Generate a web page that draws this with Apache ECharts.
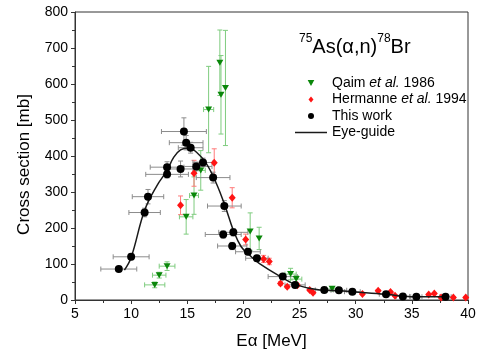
<!DOCTYPE html>
<html>
<head>
<meta charset="utf-8">
<script src="https://cdn.jsdelivr.net/npm/echarts@6/dist/echarts.min.js"></script>
<style>
  html, body { margin: 0; padding: 0; background: #fff; }
  #chart { width: 479px; height: 356px; }
</style>
</head>
<body>
<div id="chart"></div>
<script>
// This work (black circles)
const workE  = [8.9, 10.0, 11.2, 11.5, 13.2, 13.2, 14.4, 14.7, 14.9, 15.3, 15.8, 16.4, 17.3, 18.3, 18.2, 19.1, 19.0, 20.4, 21.2, 23.5, 24.6, 27.2, 28.5, 29.7, 32.7, 34.2, 35.4, 38.0];
const workS  = [86, 120, 243, 287, 349, 369, 364, 468, 437, 423, 371, 382, 340, 261, 182, 188, 150, 134, 116, 65, 42, 28, 27, 23, 16, 10, 9, 9];
const workDE = [1.6, 1.6, 1.4, 1.4, 1.9, 1.5, 1.1, 2.0, 1.5, 1.1, 1.4, 0.9, 1.5, 1.5, 1.6, 1.3, 1.3, 1.1, 1.0, 1.3, 0.9, 0.8, 0.7, 0.7, 0.6, 0.6, 0.5, 0.5];
const workDS = [6, 8, 12, 20, 10, 15, 22, 38, 20, 15, 12, 12, 15, 15, 10, 10, 10, 8, 8, 6, 5, 4, 4, 3, 3, 2, 2, 2];

// Hermanne et al. 1994 (red diamonds)
const hermE  = [14.4, 15.6, 17.4, 19.0, 20.2, 21.8, 22.3, 23.3, 23.9, 24.8, 25.9, 26.2, 30.6, 32.0, 33.1, 33.5, 36.5, 37.0, 37.6, 38.7, 39.8];
const hermS  = [263, 352, 381, 284, 168, 114, 107, 46, 37, 41, 28, 20, 17, 26, 22, 12, 15, 18, 7, 7, 7];
const hermDE = [0, 0, 0, 0, 0, 0, 0, 0, 0, 0, 0, 0, 0, 0, 0, 0, 0, 0, 0, 0, 0];
const hermDS = [26, 36, 39, 28, 15, 10, 9, 5, 4, 4, 3, 3, 3, 3, 3, 2, 2, 2, 2, 2, 2];

// Qaim et al. 1986 (green triangles)
const qaimE  = [12.1, 12.5, 13.2, 14.9, 15.6, 16.2, 16.9, 17.9, 18.0, 18.4, 20.6, 21.4, 24.2, 24.7, 27.9];
const qaimS  = [42, 69, 94, 231, 290, 360, 529, 659, 570, 589, 190, 171, 72, 58, 31];
const qaimDE = [0.9, 0.6, 0.7, 0.6, 0.4, 0.4, 0.45, 0, 0, 0, 0, 0, 0.5, 0.5, 0.5];
const qaimDS = [8, 8, 12, 48, 52, 55, 120, 91, 109, 160, 52, 31, 16, 10, 6];

// eye-guide curve
const guideE = [9.4, 10.0, 11.2, 12.3, 13.2, 13.8, 14.4, 15.1, 15.8, 16.7, 17.6, 18.4, 19.1, 19.8, 20.7, 21.4, 23.3, 24.7, 26.8, 28.5, 29.7, 32.7, 34.2, 35.4, 38.0];
const guideS = [83, 118, 249, 318, 360, 397, 417, 422, 411, 379, 323, 258, 194, 148, 120, 102, 65, 42, 28, 26, 23, 16, 11, 9, 9];

const FONT = 'Liberation Sans, Arial, sans-serif';
const TRI_DOWN = 'path://M0,0L10,0L5,9Z';
const DIAMOND = 'path://M5,0L10,6L5,12L0,6Z';
const DASH = 'path://M0,0L64,0L64,3L0,3Z';

const zip = (xs, ys) => xs.map((x, i) => [x, ys[i]]);

function errorBars(name, xs, ys, dxs, dys, color) {
  return {
    name: name,
    type: 'custom',
    silent: true,
    z: 1,
    encode: { x: 0, y: 1 },
    data: xs.map((x, i) => [x, ys[i], dxs[i], dys[i]]),
    renderItem: function (params, api) {
      const x = api.value(0), y = api.value(1), dx = api.value(2), dy = api.value(3);
      const style = { stroke: color, lineWidth: 1, fill: null };
      const cap = 2.5;
      const kids = [];
      const seg = (x1, y1, x2, y2) => kids.push({ type: 'line', shape: { x1, y1, x2, y2 }, style: style });
      if (dx > 0) {
        const a = api.coord([x - dx, y]), b = api.coord([x + dx, y]);
        seg(a[0], a[1], b[0], b[1]);
        seg(a[0], a[1] - cap, a[0], a[1] + cap);
        seg(b[0], b[1] - cap, b[0], b[1] + cap);
      }
      if (dy > 0) {
        const a = api.coord([x, y - dy]), b = api.coord([x, y + dy]);
        seg(a[0], a[1], b[0], b[1]);
        seg(a[0] - cap, a[1], a[0] + cap, a[1]);
        seg(b[0] - cap, b[1], b[0] + cap, b[1]);
      }
      return { type: 'group', children: kids };
    }
  };
}

const chart = echarts.init(document.getElementById('chart'));

chart.setOption({
  animation: false,
  backgroundColor: '#fff',
  textStyle: { fontFamily: FONT, color: '#000' },
  title: {
    text: '{s|75}{m|As(α,n)}{s|78}{m|Br}',
    left: 294,
    top: 28,
    textStyle: {
      fontFamily: FONT,
      fontWeight: 'normal',
      rich: {
        s: { fontSize: 12, lineHeight: 10, verticalAlign: 'top', color: '#000', fontFamily: FONT, fontWeight: 'normal' },
        m: { fontSize: 20, lineHeight: 28, color: '#000', fontFamily: FONT, fontWeight: 'normal' }
      }
    }
  },
  legend: {
    orient: 'vertical',
    left: 290,
    top: 71,
    itemWidth: 32,
    itemHeight: 6,
    itemGap: 2.5,
    selectedMode: false,
    symbolKeepAspect: true,
    itemStyle: { borderWidth: 0 },
    textStyle: {
      fontFamily: FONT,
      fontSize: 14,
      color: '#000',
      rich: {
        n: { fontFamily: FONT, fontSize: 14, color: '#000' },
        i: { fontFamily: FONT, fontSize: 14, color: '#000', fontStyle: 'italic' }
      }
    },
    formatter: function (name) {
      if (name === 'Qaim') return '{n|Qaim }{i|et al.}{n| 1986}';
      if (name === 'Hermanne') return '{n|Hermanne }{i|et al.}{n| 1994}';
      return '{n|' + name + '}';
    },
    data: [
      { name: 'Qaim', icon: TRI_DOWN },
      { name: 'Hermanne', icon: DIAMOND },
      { name: 'This work', icon: 'circle' },
      { name: 'Eye-guide', icon: DASH }
    ]
  },
  grid: {
    left: 75,
    right: 11,
    top: 12,
    bottom: 56,
    show: true,
    borderColor: '#333',
    borderWidth: 1,
    backgroundColor: 'transparent',
    containLabel: false,
    outerBoundsMode: 'none'
  },
  xAxis: {
    type: 'value',
    min: 5,
    max: 40,
    interval: 5,
    name: 'Eα [MeV]',
    nameLocation: 'middle',
    nameGap: 33,
    nameTextStyle: { fontFamily: FONT, fontSize: 17, color: '#000' },
    axisLine: { show: true, onZero: false, lineStyle: { color: '#333', width: 1 } },
    axisTick: { show: true, inside: false, length: 4, lineStyle: { color: '#333' } },
    minorTick: { show: true, splitNumber: 2, length: 3, lineStyle: { color: '#333' } },
    axisLabel: { fontFamily: FONT, fontSize: 14, color: '#000', margin: 7, showMinLabel: true, showMaxLabel: true },
    splitLine: { show: false },
    minorSplitLine: { show: false }
  },
  yAxis: {
    type: 'value',
    min: 0,
    max: 800,
    interval: 100,
    name: 'Cross section [mb]',
    nameLocation: 'middle',
    nameGap: 42,
    nameTextStyle: { fontFamily: FONT, fontSize: 17, color: '#000', padding: [0, 17, 0, 0] },
    axisLine: { show: true, onZero: false, lineStyle: { color: '#333', width: 1 } },
    axisTick: { show: true, inside: false, length: 4, lineStyle: { color: '#333' } },
    minorTick: { show: true, splitNumber: 2, length: 3, lineStyle: { color: '#333' } },
    axisLabel: { fontFamily: FONT, fontSize: 14, color: '#000', margin: 7, showMinLabel: true, showMaxLabel: true },
    splitLine: { show: false },
    minorSplitLine: { show: false }
  },
  series: [
    errorBars('qaim-err', qaimE, qaimS, qaimDE, qaimDS, '#7fcc7f'),
    errorBars('herm-err', hermE, hermS, hermDE, hermDS, '#ff7a7a'),
    errorBars('work-err', workE, workS, workDE, workDS, '#8c8c8c'),
    {
      name: 'Qaim',
      type: 'scatter',
      z: 3,
      symbol: TRI_DOWN,
      symbolSize: [7, 6],
      itemStyle: { color: '#0a870a', opacity: 1 },
      data: zip(qaimE, qaimS)
    },
    {
      name: 'Hermanne',
      type: 'scatter',
      z: 3,
      symbol: DIAMOND,
      symbolSize: [7, 8],
      itemStyle: { color: '#ff1414', opacity: 1 },
      data: zip(hermE, hermS)
    },
    {
      name: 'Eye-guide',
      type: 'line',
      z: 4,
      smooth: 0.4,
      showSymbol: false,
      symbol: 'none',
      lineStyle: { color: '#1a1a1a', width: 1.5 },
      itemStyle: { color: '#1a1a1a' },
      data: zip(guideE, guideS)
    },
    {
      name: 'This work',
      type: 'scatter',
      z: 5,
      symbol: 'circle',
      symbolSize: 8,
      itemStyle: { color: '#000', opacity: 1 },
      data: zip(workE, workS)
    }
  ]
});
</script>
</body>
</html>
